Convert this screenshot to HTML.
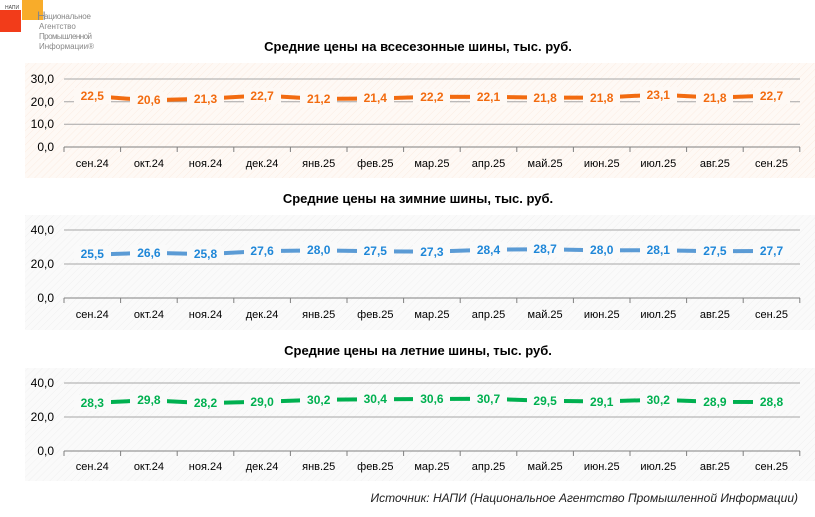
<!DOCTYPE html>
<html><head><meta charset="utf-8"><style>
body{margin:0;background:#fff;width:815px;height:512px;overflow:hidden;font-family:"Liberation Sans",sans-serif}
</style></head><body>
<svg width="815" height="512" xmlns="http://www.w3.org/2000/svg" font-family="Liberation Sans, sans-serif">
<defs>
<pattern id="h1" width="5" height="5" patternUnits="userSpaceOnUse" patternTransform="rotate(45)"><rect width="5" height="5" fill="#fef9f5"/><line x1="0" y1="0" x2="0" y2="5" stroke="#fbece2" stroke-width="1"/></pattern>
<pattern id="h2" width="5" height="5" patternUnits="userSpaceOnUse" patternTransform="rotate(45)"><rect width="5" height="5" fill="#fafafa"/><line x1="0" y1="0" x2="0" y2="5" stroke="#f0f0f0" stroke-width="1"/></pattern>
</defs>
<!-- logo -->
<rect x="0" y="10" width="21" height="22" fill="#f23c1a"/>
<rect x="22" y="0" width="21" height="20" fill="#f8ac2a"/>
<text x="5" y="9" font-size="5" fill="#444">НАПИ</text>
<text x="37" y="20" font-size="12" fill="#888">Н</text>
<text x="44" y="19" font-size="8" fill="#888" textLength="47">ациональное</text>
<text x="39" y="29" font-size="8" fill="#888">Агентство</text>
<text x="39" y="39" font-size="8" fill="#888" textLength="53">Промышленной</text>
<text x="39" y="49" font-size="8" fill="#888">Информации®</text>

<!-- titles -->
<g font-size="13" font-weight="bold" fill="#000" text-anchor="middle">
<text x="418" y="51">Средние цены на всесезонные шины, тыс. руб.</text>
<text x="418" y="203">Средние цены на зимние шины, тыс. руб.</text>
<text x="418" y="355">Средние цены на летние шины, тыс. руб.</text>
</g>

<!-- panels -->
<rect x="25" y="63" width="790" height="115" fill="url(#h1)"/>
<rect x="25" y="215" width="790" height="115" fill="url(#h2)"/>
<rect x="25" y="368" width="790" height="113" fill="url(#h2)"/>

<!-- grids -->
<g stroke="#a6a6a6" stroke-width="1">
<line x1="64" y1="79" x2="800" y2="79"/><line x1="64" y1="101.7" x2="800" y2="101.7"/><line x1="64" y1="124.3" x2="800" y2="124.3"/>
<line x1="64" y1="230" x2="800" y2="230"/><line x1="64" y1="264" x2="800" y2="264"/>
<line x1="64" y1="383" x2="800" y2="383"/><line x1="64" y1="417" x2="800" y2="417"/>
</g>
<g stroke="#808080" stroke-width="1">
<line x1="64" y1="147" x2="800" y2="147"/><line x1="64" y1="298" x2="800" y2="298"/><line x1="64" y1="451" x2="800" y2="451"/>
</g>
<g stroke="#808080" stroke-width="1">
<path d="M64 147v5M120.6 147v5M177.2 147v5M233.8 147v5M290.4 147v5M347 147v5M403.6 147v5M460.2 147v5M516.8 147v5M573.4 147v5M630 147v5M686.6 147v5M743.2 147v5M799.8 147v5"/>
<path d="M64 298v5M120.6 298v5M177.2 298v5M233.8 298v5M290.4 298v5M347 298v5M403.6 298v5M460.2 298v5M516.8 298v5M573.4 298v5M630 298v5M686.6 298v5M743.2 298v5M799.8 298v5"/>
<path d="M64 451v5M120.6 451v5M177.2 451v5M233.8 451v5M290.4 451v5M347 451v5M403.6 451v5M460.2 451v5M516.8 451v5M573.4 451v5M630 451v5M686.6 451v5M743.2 451v5M799.8 451v5"/>
</g>

<!-- y labels -->
<g font-size="12" fill="#000" text-anchor="end">
<text x="54" y="83">30,0</text><text x="54" y="106">20,0</text><text x="54" y="128">10,0</text><text x="54" y="151">0,0</text>
<text x="54" y="234">40,0</text><text x="54" y="268">20,0</text><text x="54" y="302">0,0</text>
<text x="54" y="387">40,0</text><text x="54" y="421">20,0</text><text x="54" y="455">0,0</text>
</g>

<!-- x labels -->
<g font-size="11" fill="#000" text-anchor="middle">
<text x="92.3" y="167">сен.24</text><text x="148.9" y="167">окт.24</text><text x="205.5" y="167">ноя.24</text><text x="262.1" y="167">дек.24</text><text x="318.7" y="167">янв.25</text><text x="375.3" y="167">фев.25</text><text x="431.9" y="167">мар.25</text><text x="488.5" y="167">апр.25</text><text x="545.1" y="167">май.25</text><text x="601.7" y="167">июн.25</text><text x="658.3" y="167">июл.25</text><text x="714.9" y="167">авг.25</text><text x="771.5" y="167">сен.25</text>
<text x="92.3" y="318">сен.24</text><text x="148.9" y="318">окт.24</text><text x="205.5" y="318">ноя.24</text><text x="262.1" y="318">дек.24</text><text x="318.7" y="318">янв.25</text><text x="375.3" y="318">фев.25</text><text x="431.9" y="318">мар.25</text><text x="488.5" y="318">апр.25</text><text x="545.1" y="318">май.25</text><text x="601.7" y="318">июн.25</text><text x="658.3" y="318">июл.25</text><text x="714.9" y="318">авг.25</text><text x="771.5" y="318">сен.25</text>
<text x="92.3" y="470">сен.24</text><text x="148.9" y="470">окт.24</text><text x="205.5" y="470">ноя.24</text><text x="262.1" y="470">дек.24</text><text x="318.7" y="470">янв.25</text><text x="375.3" y="470">фев.25</text><text x="431.9" y="470">мар.25</text><text x="488.5" y="470">апр.25</text><text x="545.1" y="470">май.25</text><text x="601.7" y="470">июн.25</text><text x="658.3" y="470">июл.25</text><text x="714.9" y="470">авг.25</text><text x="771.5" y="470">сен.25</text>
</g>

<!-- series lines -->
<polyline fill="none" stroke="#f26b10" stroke-width="4" points="92.3,96 148.9,100.3 205.5,98.7 262.1,95.5 318.7,98.9 375.3,98.5 431.9,96.7 488.5,96.9 545.1,97.6 601.7,97.6 658.3,94.6 714.9,97.6 771.5,95.5"/>
<polyline fill="none" stroke="#5b9bd5" stroke-width="4" points="92.3,254.6 148.9,252.8 205.5,254.1 262.1,251.1 318.7,250.4 375.3,251.3 431.9,251.6 488.5,249.7 545.1,249.2 601.7,250.4 658.3,250.2 714.9,251.3 771.5,250.9"/>
<polyline fill="none" stroke="#00b050" stroke-width="4" points="92.3,402.9 148.9,400.3 205.5,403.1 262.1,401.7 318.7,399.7 375.3,399.3 431.9,399 488.5,398.8 545.1,400.8 601.7,401.5 658.3,399.7 714.9,401.9 771.5,402"/>

<!-- label backgrounds -->
<g fill="#fef9f5">
<rect x="74" y="88" width="37" height="16"/><rect x="130" y="92" width="37" height="16"/><rect x="187" y="91" width="37" height="16"/><rect x="244" y="88" width="37" height="16"/><rect x="300" y="91" width="37" height="16"/><rect x="357" y="90" width="37" height="16"/><rect x="413" y="89" width="37" height="16"/><rect x="470" y="89" width="37" height="16"/><rect x="527" y="90" width="37" height="16"/><rect x="583" y="90" width="37" height="16"/><rect x="640" y="87" width="37" height="16"/><rect x="696" y="90" width="37" height="16"/><rect x="753" y="88" width="37" height="16"/>
</g>
<g fill="#fafafa">
<rect x="74" y="246" width="37" height="16"/><rect x="130" y="245" width="37" height="16"/><rect x="187" y="246" width="37" height="16"/><rect x="244" y="243" width="37" height="16"/><rect x="300" y="242" width="37" height="16"/><rect x="357" y="243" width="37" height="16"/><rect x="413" y="244" width="37" height="16"/><rect x="470" y="242" width="37" height="16"/><rect x="527" y="241" width="37" height="16"/><rect x="583" y="242" width="37" height="16"/><rect x="640" y="242" width="37" height="16"/><rect x="696" y="243" width="37" height="16"/><rect x="753" y="243" width="37" height="16"/>
<rect x="74" y="395" width="37" height="16"/><rect x="130" y="392" width="37" height="16"/><rect x="187" y="395" width="37" height="16"/><rect x="244" y="394" width="37" height="16"/><rect x="300" y="392" width="37" height="16"/><rect x="357" y="391" width="37" height="16"/><rect x="413" y="391" width="37" height="16"/><rect x="470" y="391" width="37" height="16"/><rect x="527" y="393" width="37" height="16"/><rect x="583" y="394" width="37" height="16"/><rect x="640" y="392" width="37" height="16"/><rect x="696" y="394" width="37" height="16"/><rect x="753" y="394" width="37" height="16"/>
</g>

<!-- data labels -->
<g font-size="12" font-weight="bold" text-anchor="middle" fill="#f26b10">
<text x="92.3" y="100">22,5</text><text x="148.9" y="104">20,6</text><text x="205.5" y="103">21,3</text><text x="262.1" y="100">22,7</text><text x="318.7" y="103">21,2</text><text x="375.3" y="102">21,4</text><text x="431.9" y="101">22,2</text><text x="488.5" y="101">22,1</text><text x="545.1" y="102">21,8</text><text x="601.7" y="102">21,8</text><text x="658.3" y="99">23,1</text><text x="714.9" y="102">21,8</text><text x="771.5" y="100">22,7</text>
</g>
<g font-size="12" font-weight="bold" text-anchor="middle" fill="#1f87d8">
<text x="92.3" y="258">25,5</text><text x="148.9" y="257">26,6</text><text x="205.5" y="258">25,8</text><text x="262.1" y="255">27,6</text><text x="318.7" y="254">28,0</text><text x="375.3" y="255">27,5</text><text x="431.9" y="256">27,3</text><text x="488.5" y="254">28,4</text><text x="545.1" y="253">28,7</text><text x="601.7" y="254">28,0</text><text x="658.3" y="254">28,1</text><text x="714.9" y="255">27,5</text><text x="771.5" y="255">27,7</text>
</g>
<g font-size="12" font-weight="bold" text-anchor="middle" fill="#00b050">
<text x="92.3" y="407">28,3</text><text x="148.9" y="404">29,8</text><text x="205.5" y="407">28,2</text><text x="262.1" y="406">29,0</text><text x="318.7" y="404">30,2</text><text x="375.3" y="403">30,4</text><text x="431.9" y="403">30,6</text><text x="488.5" y="403">30,7</text><text x="545.1" y="405">29,5</text><text x="601.7" y="406">29,1</text><text x="658.3" y="404">30,2</text><text x="714.9" y="406">28,9</text><text x="771.5" y="406">28,8</text>
</g>

<text x="798" y="502" font-size="12" font-style="italic" fill="#222" text-anchor="end">Источник: НАПИ (Национальное Агентство Промышленной Информации)</text>
</svg>
</body></html>
